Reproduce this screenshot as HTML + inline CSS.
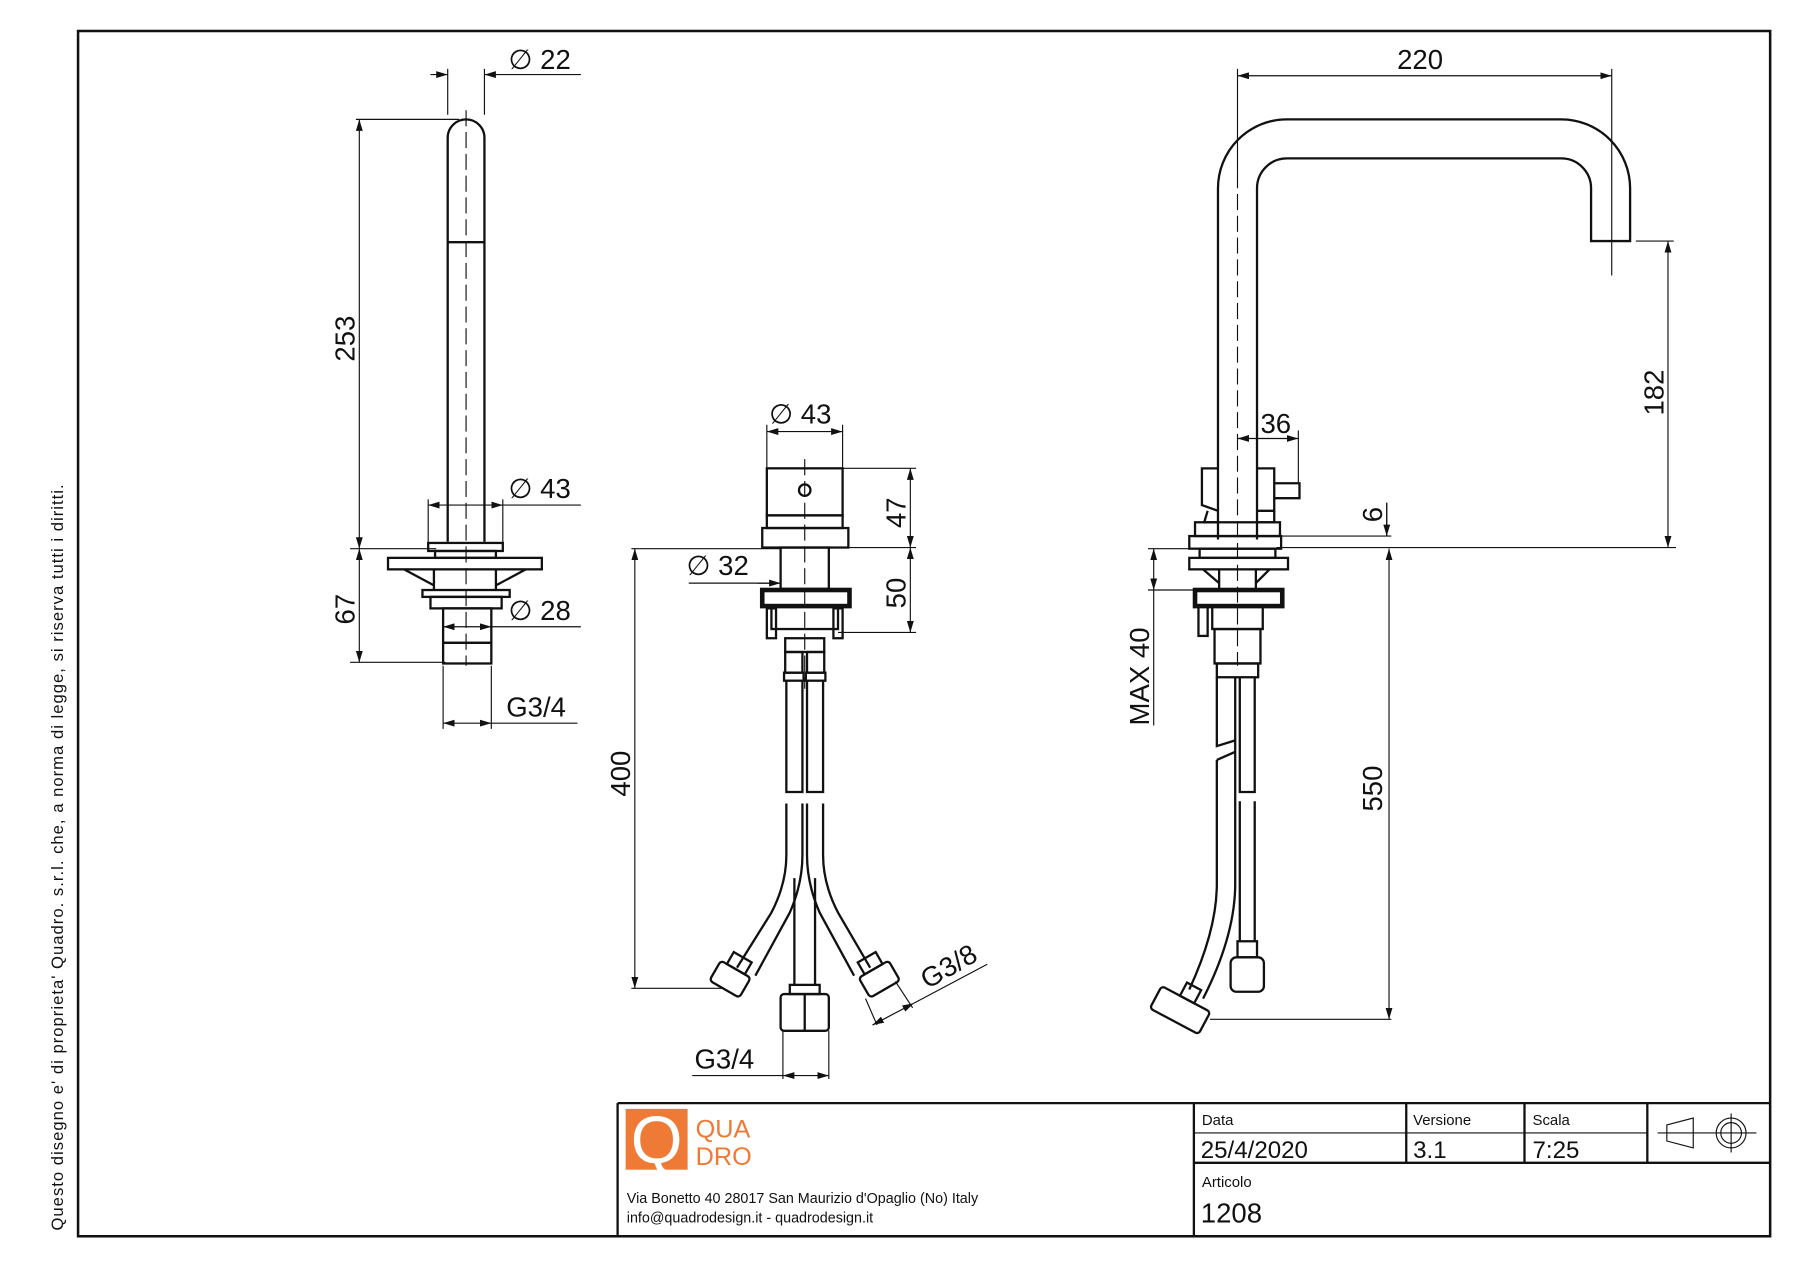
<!DOCTYPE html>
<html><head><meta charset="utf-8"><style>
html,body{margin:0;padding:0;background:#fff}
svg{display:block}
text{font-family:"Liberation Sans",sans-serif;fill:#111}
</style></head><body>
<svg width="1800" height="1273" viewBox="0 0 1568 1109" preserveAspectRatio="none" xmlns="http://www.w3.org/2000/svg">
<defs>
<marker id="a" viewBox="0 0 10 6" refX="10" refY="3" markerWidth="10" markerHeight="6" markerUnits="userSpaceOnUse" orient="auto-start-reverse"><path d="M0,0 L10,3 L0,6 z" fill="#111"/></marker>
</defs>
<g fill="none" stroke="#111">
<rect x="68" y="27" width="1474" height="1050" stroke-width="2.2"/>
<path d="M538 961 H1542 M538 961 V1077 M1040 961 V1077 M1040 1013 H1542 M1225 961 V1013 M1328 961 V1013 M1435 961 V1013" stroke-width="2"/>
<path d="M1040 987 H1435" stroke-width="1"/>
<path d="M1452 980 L1475 974 V1000 L1452 994 Z M1444 987 H1530" stroke-width="1"/>
<circle cx="1508" cy="987" r="13" stroke-width="1"/><circle cx="1508" cy="987" r="9" stroke-width="1"/>
<path d="M1508 970 V1004" stroke-width="1"/>
</g>
<rect x="545" y="966" width="54" height="53" fill="#ee7a36"/>
<text x="572" y="1013" font-size="58" style="fill:#fff" text-anchor="middle">Q</text>
<text x="606" y="991" font-size="22" style="fill:#ee7a36">QUA</text>
<text x="606" y="1015" font-size="22" style="fill:#ee7a36">DRO</text>
<text x="546" y="1048" font-size="12.5">Via Bonetto 40  28017 San Maurizio d'Opaglio (No) Italy</text>
<text x="546" y="1065" font-size="12.5">info@quadrodesign.it  -  quadrodesign.it</text>
<text x="1047" y="980" font-size="13">Data</text>
<text x="1231" y="980" font-size="13">Versione</text>
<text x="1335" y="980" font-size="13">Scala</text>
<text x="1046" y="1009" font-size="21">25/4/2020</text>
<text x="1231" y="1009" font-size="21">3.1</text>
<text x="1335" y="1009" font-size="21">7:25</text>
<text x="1047" y="1034" font-size="13">Articolo</text>
<text x="1046" y="1065" font-size="24">1208</text>
<text transform="translate(55,1072) rotate(-90)" font-size="14.5" textLength="650" lengthAdjust="spacing">Questo disegno e' di proprieta' Quadro. s.r.l. che, a norma di legge, si riserva tutti i diritti.</text>

<g fill="none" stroke="#111" stroke-width="2">
<path d="M390 472 V120 A16 16 0 0 1 422 120 V472"/>
<path d="M390 211 H422"/>
<rect x="373" y="473" width="65" height="7"/>
<rect x="379" y="480" width="53" height="6"/>
<rect x="338" y="486" width="134" height="10"/>
<path d="M352 496 L378 510 M458 496 L432 510 M378 496 V514 M432 496 V514"/>
<rect x="368" y="514" width="76" height="6"/>
<rect x="375" y="520" width="62" height="10"/>
<rect x="386" y="530" width="42" height="30"/>
<rect x="386" y="560" width="42" height="18"/>
</g>
<g stroke="#111" stroke-width="1" fill="none">
<path d="M406 96 V580" stroke-dasharray="14 5"/>
<path d="M390 60 V100 M422 60 V100 M373 435 V478 M438 435 V478 M310 104 H400 M305 478 H380 M305 577 H388 M386 580 V635 M428 580 V635"/>
<path d="M375 65 H390" marker-end="url(#a)"/><path d="M506 65 H422" marker-end="url(#a)"/>
<path d="M313 104 V478" marker-start="url(#a)" marker-end="url(#a)"/>
<path d="M313 478 V577" marker-start="url(#a)" marker-end="url(#a)"/>
<path d="M373 440 H438" marker-start="url(#a)" marker-end="url(#a)"/><path d="M438 440 H506"/>
<path d="M386 546 H428" marker-start="url(#a)" marker-end="url(#a)"/><path d="M428 546 H506"/>
<path d="M386 630 H428" marker-start="url(#a)" marker-end="url(#a)"/><path d="M428 630 H503"/>
</g>
<text x="443" y="60" font-size="24">∅ 22</text>
<text x="443" y="434" font-size="24">∅ 43</text>
<text x="443" y="540" font-size="24">∅ 28</text>
<text x="441" y="624" font-size="24">G3/4</text>
<text transform="translate(309,315) rotate(-90)" font-size="24">253</text>
<text transform="translate(309,544) rotate(-90)" font-size="24">67</text>

<g fill="none" stroke="#111" stroke-width="2">
<rect x="668" y="408" width="66" height="41"/>
<circle cx="701" cy="427" r="5"/>
<rect x="668" y="449" width="66" height="11"/>
<rect x="664" y="460" width="75" height="17"/>
<rect x="680" y="477" width="42" height="36"/>
<rect x="664" y="514" width="76" height="14" stroke-width="4"/>
<rect x="672" y="528" width="58" height="20"/>
<rect x="668" y="530" width="8" height="26"/><rect x="726" y="530" width="8" height="26"/>
<rect x="684" y="556" width="34" height="12"/>
<rect x="684" y="568" width="15" height="18"/><rect x="703" y="568" width="15" height="18"/>
<rect x="683" y="586" width="17" height="7"/><rect x="702" y="586" width="17" height="7"/>
<path d="M685 593 V690 H699 V593 M703 593 V690 H717 V593"/>
<path d="M685 700 V745 Q685 770 672 795 L642 843 M699 700 V745 Q699 770 688 795 L658 850"/>
<path d="M717 700 V745 Q717 770 730 795 L758 843 M703 700 V745 Q703 770 714 795 L744 850"/>
<path d="M692 765 V858 M710 765 V858"/>
<rect x="688" y="858" width="26" height="8"/>
<rect x="680" y="866" width="42" height="32" rx="3"/>
<path d="M701 866 V898"/>
<g transform="translate(636,853) rotate(30)"><rect x="-15" y="-10" width="30" height="20" rx="3"/><rect x="-9" y="-22" width="18" height="12"/></g>
<g transform="translate(766,853) rotate(-30)"><rect x="-15" y="-10" width="30" height="20" rx="3"/><rect x="-9" y="-22" width="18" height="12"/></g>
</g>
<g stroke="#111" stroke-width="1" fill="none">
<path d="M701 400 V600" stroke-dasharray="14 5"/>
<path d="M668 370 V408 M734 370 V408 M734 408 H798 M739 477 H798 M730 551 H798 M550 478 H680 M550 861 H630 M682 898 V940 M722 898 V940 M600 508 H680"/>
<path d="M668 376 H734" marker-start="url(#a)" marker-end="url(#a)"/>
<path d="M793 408 V477" marker-start="url(#a)" marker-end="url(#a)"/>
<path d="M793 477 V551" marker-start="url(#a)" marker-end="url(#a)"/>
<path d="M553 478 V861" marker-start="url(#a)" marker-end="url(#a)"/>
<path d="M682 937 H722" marker-start="url(#a)" marker-end="url(#a)"/><path d="M603 937 H682"/>
<path d="M660 508 H680" marker-end="url(#a)"/>
<path d="M760 893 L796 874" marker-start="url(#a)" marker-end="url(#a)"/><path d="M796 874 L860 840"/>
<path d="M754 870 L764 893 M780 855 L795 878"/>
</g>
<text x="670" y="369" font-size="24">∅ 43</text>
<text x="598" y="501" font-size="24">∅ 32</text>
<text x="605" y="931" font-size="24">G3/4</text>
<text transform="translate(789,460) rotate(-90)" font-size="24">47</text>
<text transform="translate(789,530) rotate(-90)" font-size="24">50</text>
<text transform="translate(549,694) rotate(-90)" font-size="24">400</text>
<text transform="translate(808,862) rotate(-30)" font-size="24">G3/8</text>

<g fill="none" stroke="#111" stroke-width="2">
<path d="M1061 470 V164 A60 60 0 0 1 1121 104 H1360 A60 60 0 0 1 1420 164 V210 H1386 V164 A26 26 0 0 0 1360 138 H1121 A26 26 0 0 0 1095 164 V470"/>
<path d="M1061 408 H1047 V440 L1061 445 M1095 408 H1110 V445 H1095 M1110 421 H1132 V434 H1110"/>
<path d="M1052 445 L1049 455 H1061 M1095 455 H1110 V445"/>
<rect x="1041" y="455" width="74" height="12"/>
<rect x="1036" y="467" width="80" height="11"/>
<rect x="1045" y="478" width="66" height="8"/>
<rect x="1036" y="486" width="86" height="10"/>
<path d="M1048 496 L1062 508 M1106 496 L1094 508 M1062 496 V514 M1094 496 V514"/>
<rect x="1041" y="514" width="76" height="14" stroke-width="4"/>
<rect x="1044" y="528" width="8" height="26"/>
<rect x="1056" y="528" width="44" height="20"/>
<rect x="1058" y="548" width="40" height="30"/>
<rect x="1060" y="578" width="36" height="12"/>
<path d="M1060 590 V650 L1076 645 M1060 662 L1076 655 V590 M1060 662 V770 Q1060 810 1036 862 M1076 655 V770 Q1076 815 1048 870"/>
<path d="M1080 590 V690 H1093 V590 M1080 698 V820 M1093 698 V820"/>
<rect x="1078" y="820" width="17" height="14"/>
<rect x="1072" y="834" width="29" height="30" rx="5"/>
<g transform="translate(1028,880) rotate(28)"><rect x="-24" y="-11" width="48" height="22" rx="3"/><rect x="-6" y="-24" width="14" height="13"/></g>
</g>
<g stroke="#111" stroke-width="1" fill="none">
<path d="M1078 150 V580" stroke-dasharray="14 5"/>
<path d="M1078 60 V150 M1404 60 V240 M1425 210 H1458 M1112 477 H1460 M1131 375 H1131 V420 M1112 467 H1212 M1000 478 H1045 M1000 514 H1045 M1054 888 H1212 M1208 438 V467"/>
<path d="M1078 66 H1404" marker-start="url(#a)" marker-end="url(#a)"/>
<path d="M1453 210 V477" marker-start="url(#a)" marker-end="url(#a)"/>
<path d="M1078 382 H1131" marker-start="url(#a)" marker-end="url(#a)"/>
<path d="M1208 438 V467" marker-end="url(#a)"/>
<path d="M1210 478 V888" marker-start="url(#a)" marker-end="url(#a)"/>
<path d="M1005 478 V514" marker-start="url(#a)" marker-end="url(#a)"/><path d="M1005 514 V632"/>
</g>
<text x="1217" y="60" font-size="24">220</text>
<text x="1098" y="377" font-size="24">36</text>
<text transform="translate(1449,362) rotate(-90)" font-size="24">182</text>
<text transform="translate(1204,455) rotate(-90)" font-size="24">6</text>
<text transform="translate(1204,707) rotate(-90)" font-size="24">550</text>
<text transform="translate(1001,632) rotate(-90)" font-size="24">MAX 40</text>
</svg>
</body></html>
